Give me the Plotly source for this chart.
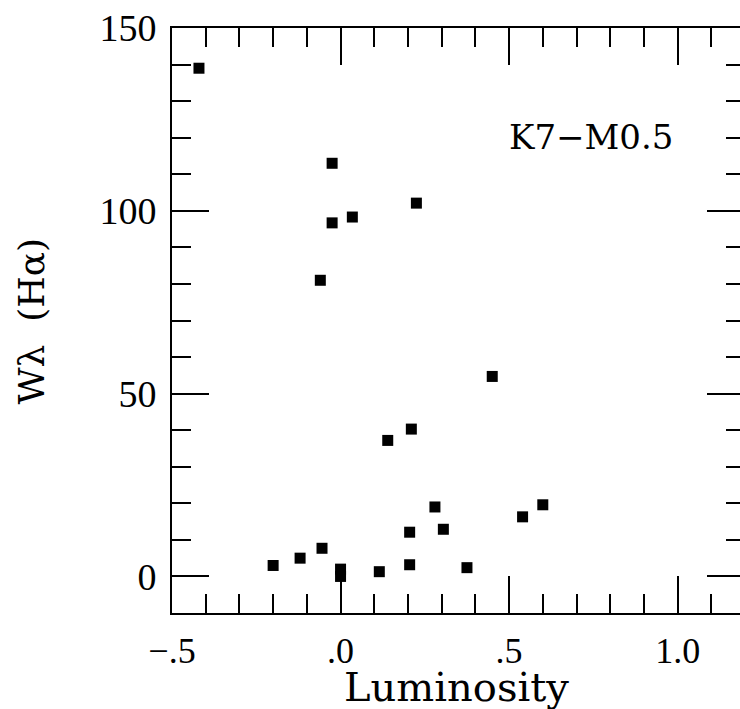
import plotly.graph_objects as go

# Data (Luminosity vs W_lambda(H-alpha), K7-M0.5)
luminosity = [-0.42, -0.20, -0.12, -0.055, -0.06, -0.025, -0.025, 0.0, 0.0, 0.035,
              0.115, 0.14, 0.21, 0.205, 0.205, 0.225, 0.28, 0.305, 0.375, 0.45,
              0.54, 0.60]
w_halpha = [139.0, 3.0, 5.0, 7.7, 81.0, 113.0, 96.7, 2.0, 0.0, 98.3,
            1.3, 37.2, 40.3, 3.2, 12.1, 102.1, 19.0, 12.9, 2.4, 54.7,
            16.3, 19.6]

x_tickvals = [-0.5, 0.0, 0.5, 1.0]
x_ticktext = ["\u2212.5", ".0", ".5", "1.0"]
y_tickvals = [0, 50, 100, 150]
y_ticktext = ["0", "50", "100", "150"]

x_range = [-0.5, 1.185]
y_range = [-10, 150]

fig = go.Figure()
fig.add_trace(go.Scatter(
    x=luminosity, y=w_halpha, mode="markers",
    marker=dict(symbol="square", size=11, color="black", line=dict(width=0)),
    showlegend=False, hoverinfo="x+y",
))
# empty trace to activate the right-hand tick axis
fig.add_trace(go.Scatter(x=[], y=[], yaxis="y2", showlegend=False))

fig.update_layout(
    width=740, height=709,
    margin=dict(l=172, r=0, t=28, b=96),
    paper_bgcolor="white", plot_bgcolor="white",
    font=dict(family="DejaVu Serif", color="black"),
    xaxis=dict(
        range=x_range, showgrid=False, zeroline=False,
        showline=True, linecolor="black", linewidth=2, mirror="ticks",
        ticks="inside", ticklen=37, tickwidth=2, tickcolor="black",
        tickvals=x_tickvals, ticktext=x_ticktext,
        tickfont=dict(family="Liberation Serif", size=36, color="black"),
        ticklabelstandoff=5,
        minor=dict(dtick=0.1, tick0=0, ticks="inside", ticklen=19,
                   tickwidth=2, tickcolor="black", showgrid=False),
    ),
    yaxis=dict(
        range=y_range, showgrid=False, zeroline=False,
        showline=True, linecolor="black", linewidth=2, mirror=False,
        ticks="inside", ticklen=37, tickwidth=2, tickcolor="black",
        tickvals=y_tickvals, ticktext=y_ticktext,
        tickfont=dict(family="Liberation Serif", size=38, color="black"),
        ticklabelstandoff=6,
        minor=dict(dtick=10, tick0=0, ticks="inside", ticklen=19,
                   tickwidth=2, tickcolor="black", showgrid=False),
    ),
    yaxis2=dict(
        range=y_range, overlaying="y", side="right", anchor="x",
        showgrid=False, zeroline=False, showline=False,
        ticks="inside", ticklen=33, tickwidth=2, tickcolor="black",
        tickvals=y_tickvals, showticklabels=False,
        minor=dict(dtick=10, tick0=0, ticks="inside", ticklen=14,
                   tickwidth=2, tickcolor="black", showgrid=False),
    ),
    annotations=[
        dict(text="Luminosity", xref="paper", yref="paper", x=0.5, y=-0.1265,
             xanchor="center", yanchor="middle", showarrow=False,
             font=dict(family="DejaVu Serif", size=40, color="black")),
        dict(text="W\u03bb  (H\u03b1)", xref="paper", yref="paper", x=-0.2465, y=0.5,
             xanchor="center", yanchor="middle", textangle=-90, showarrow=False,
             font=dict(family="DejaVu Serif", size=36, color="black")),
        dict(text="K7\u2212M0.5", xref="paper", yref="paper", x=0.7377, y=0.8137,
             xanchor="center", yanchor="middle", showarrow=False,
             font=dict(family="DejaVu Serif", size=34, color="black")),
    ],
)

fig.write_html("out.html")
